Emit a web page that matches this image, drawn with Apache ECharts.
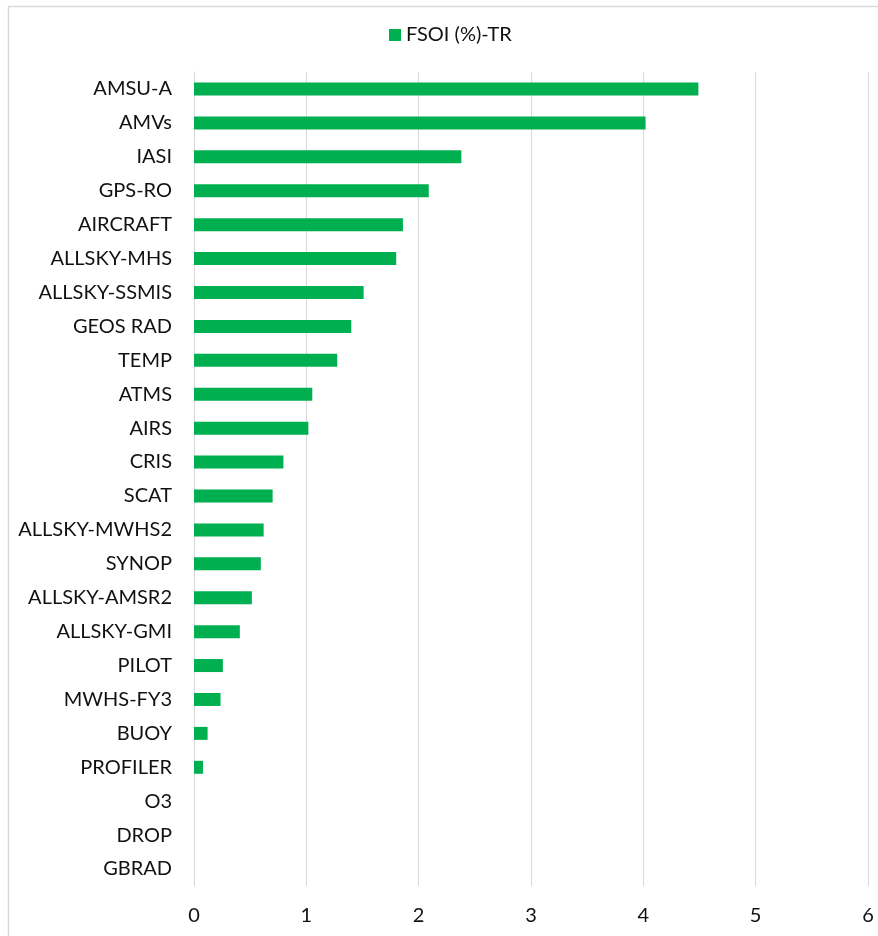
<!DOCTYPE html>
<html>
<head>
<meta charset="utf-8">
<script src="https://cdn.jsdelivr.net/npm/echarts@6/dist/echarts.min.js"></script>
<style>
  html, body { margin: 0; padding: 0; background: #fff; }
  #chart { width: 878px; height: 936px; }
</style>
</head>
<body>
<div id="chart"></div>
<script>
// Observation types, top to bottom
const categories = [
  'AMSU-A', 'AMVs', 'IASI', 'GPS-RO', 'AIRCRAFT', 'ALLSKY-MHS', 'ALLSKY-SSMIS',
  'GEOS RAD', 'TEMP', 'ATMS', 'AIRS', 'CRIS', 'SCAT', 'ALLSKY-MWHS2', 'SYNOP',
  'ALLSKY-AMSR2', 'ALLSKY-GMI', 'PILOT', 'MWHS-FY3', 'BUOY', 'PROFILER',
  'O3', 'DROP', 'GBRAD'
];

// FSOI contribution (%) per observation type
const fsoiTR = [
  4.49, 4.02, 2.38, 2.09, 1.86, 1.80, 1.51,
  1.40, 1.275, 1.053, 1.018, 0.796, 0.70, 0.62, 0.595,
  0.515, 0.408, 0.257, 0.236, 0.121, 0.08,
  0, 0, 0
];

const seriesName = 'FSOI (%)-TR';
const xTicks = { min: 0, max: 6, interval: 1 };

const FONT = 'Lato';
const TEXT_COLOR = '#111111';
const chart = echarts.init(document.getElementById('chart'), null, { renderer: 'canvas' });

chart.setOption({
  backgroundColor: '#ffffff',
  animation: false,
  textStyle: { fontFamily: FONT },
  graphic: [{
    type: 'rect',
    z: -10,
    shape: { x: 8.5, y: 6.5, width: 1000, height: 1000 },
    style: { fill: 'none', stroke: '#d9d9d9', lineWidth: 1.5 },
    silent: true
  }],
  legend: {
    data: [seriesName],
    left: 384,
    top: 20,
    itemWidth: 12,
    itemHeight: 12,
    itemGap: 7,
    icon: 'rect',
    textStyle: { fontFamily: FONT, fontSize: 20, color: TEXT_COLOR }
  },
  grid: { left: 194, right: 10, top: 72, bottom: 50, containLabel: false },
  xAxis: {
    type: 'value',
    min: xTicks.min,
    max: xTicks.max,
    interval: xTicks.interval,
    axisLine: { show: false },
    axisTick: { show: false },
    splitLine: { show: true, lineStyle: { color: '#d9d9d9', width: 1 } },
    axisLabel: { margin: 20, fontFamily: FONT, fontSize: 20, color: TEXT_COLOR }
  },
  yAxis: {
    type: 'category',
    inverse: true,
    data: categories,
    axisLine: { show: true, lineStyle: { color: '#d9d9d9', width: 1 } },
    axisTick: { show: false },
    splitLine: { show: false },
    axisLabel: { margin: 22, fontFamily: FONT, fontSize: 20, color: TEXT_COLOR }
  },
  series: [{
    name: seriesName,
    type: 'bar',
    data: fsoiTR,
    barWidth: 13,
    itemStyle: { color: '#00b050' }
  }]
});
</script>
</body>
</html>
